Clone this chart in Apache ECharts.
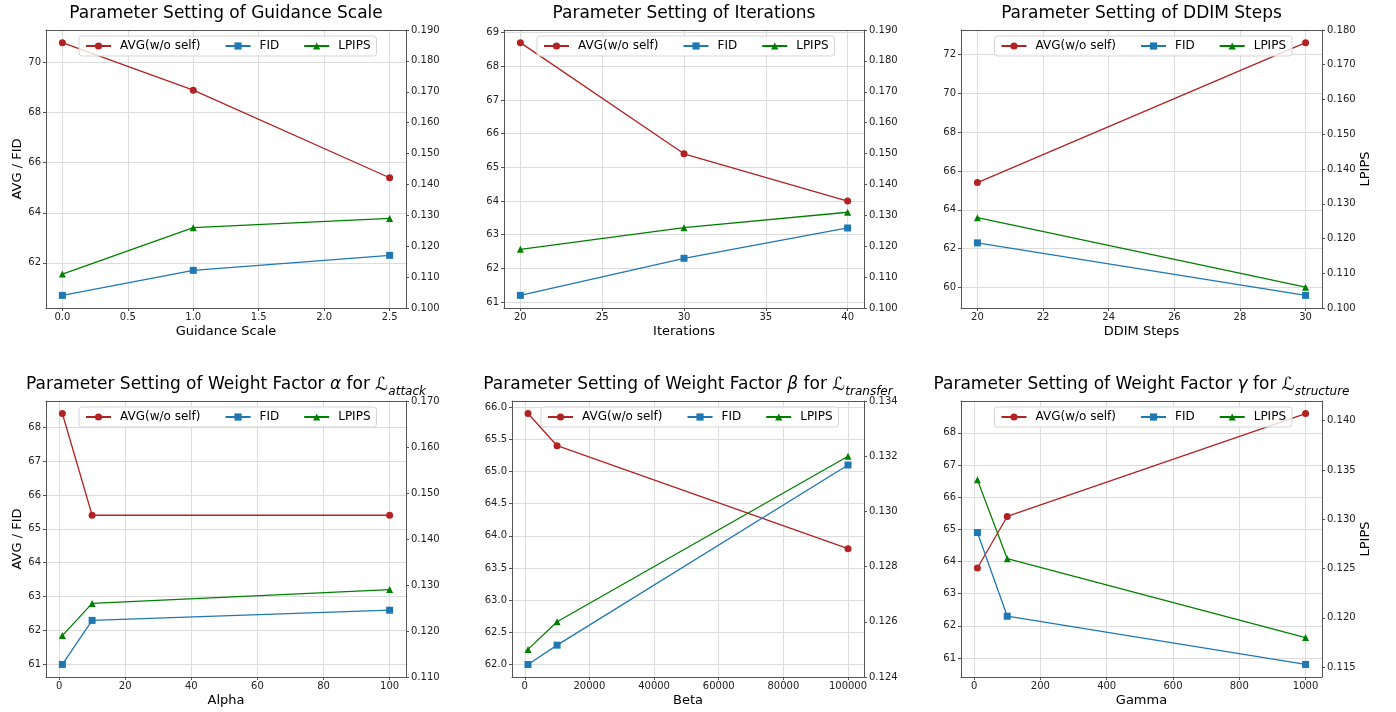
<!DOCTYPE html>
<html>
<head>
<meta charset="utf-8">
<script src="https://cdn.jsdelivr.net/npm/echarts@6/dist/echarts.min.js"></script>
<style>
html, body { margin: 0; padding: 0; background: #fff; }
#chart { width: 1396px; height: 712px; }
</style>
</head>
<body>
<div id="chart"></div>
<script>
var FONT = 'DejaVu Sans';
var RED = '#b22222', BLUE = '#1f77b4', GREEN = '#008000';
var SERIES_NAMES = ['AVG(w/o self)', 'FID', 'LPIPS'];

// Guidance Scale
var gsX = [0.0, 1.0, 2.5];
var gsAvg = [70.8, 68.9, 65.4];
var gsFid = [60.7, 61.7, 62.3];
var gsLpips = [0.111, 0.126, 0.129];
var gsLpipsAxis = [0.100, 0.190, 0.010]; // min, max, step

// Iterations
var itX = [20, 30, 40];
var itAvg = [68.7, 65.4, 64.0];
var itFid = [61.2, 62.3, 63.2];
var itLpips = [0.119, 0.126, 0.131];
var itLpipsAxis = [0.100, 0.190, 0.010];

// DDIM Steps
var ddX = [20, 30];
var ddAvg = [65.4, 72.6];
var ddFid = [62.3, 59.6];
var ddLpips = [0.126, 0.106];
var ddLpipsAxis = [0.100, 0.180, 0.010];

// Alpha
var alX = [1, 10, 100];
var alAvg = [68.4, 65.4, 65.4];
var alFid = [61.0, 62.3, 62.6];
var alLpips = [0.119, 0.126, 0.129];
var alLpipsAxis = [0.110, 0.170, 0.010];

// Beta
var beX = [1000, 10000, 100000];
var beAvg = [65.9, 65.4, 63.8];
var beFid = [62.0, 62.3, 65.1];
var beLpips = [0.125, 0.126, 0.132];
var beLpipsAxis = [0.124, 0.134, 0.002];

// Gamma
var gaX = [10, 100, 1000];
var gaAvg = [63.8, 65.4, 68.6];
var gaFid = [64.9, 62.3, 60.8];
var gaLpips = [0.134, 0.126, 0.118];
var gaLpipsAxis = [0.114, 0.142, 0.005];

var panels = [
    {title: '{n|Parameter Setting of Guidance Scale}', xName: 'Guidance Scale', x: gsX, avg: gsAvg, fid: gsFid, lpips: gsLpips,
     rAxis: gsLpipsAxis, xStep: 0.5, xDec: 1, yStep: 2, yDec: 0, leftName: 'AVG / FID', rightName: '',
     rect: [46, 30, 360, 278]},
    {title: '{n|Parameter Setting of Iterations}', xName: 'Iterations', x: itX, avg: itAvg, fid: itFid, lpips: itLpips,
     rAxis: itLpipsAxis, xStep: 5, xDec: 0, yStep: 1, yDec: 0, leftName: '', rightName: '',
     rect: [504, 30, 360, 278]},
    {title: '{n|Parameter Setting of DDIM Steps}', xName: 'DDIM Steps', x: ddX, avg: ddAvg, fid: ddFid, lpips: ddLpips,
     rAxis: ddLpipsAxis, xStep: 2, xDec: 0, yStep: 2, yDec: 0, leftName: '', rightName: 'LPIPS',
     rect: [961, 30, 361, 278]},
    {title: '{n|Parameter Setting of Weight Factor }{i|α}{n| for }{L|ℒ}{s|attack}', xName: 'Alpha', x: alX, avg: alAvg, fid: alFid, lpips: alLpips,
     rAxis: alLpipsAxis, xStep: 20, xDec: 0, yStep: 1, yDec: 0, leftName: 'AVG / FID', rightName: '',
     rect: [46, 401, 360, 276]},
    {title: '{n|Parameter Setting of Weight Factor }{i|β}{n| for }{L|ℒ}{s|transfer}', xName: 'Beta', x: beX, avg: beAvg, fid: beFid, lpips: beLpips,
     rAxis: beLpipsAxis, xStep: 20000, xDec: 0, yStep: 0.5, yDec: 1, leftName: '', rightName: '',
     rect: [512, 401, 352, 276]},
    {title: '{n|Parameter Setting of Weight Factor }{i|γ}{n| for }{L|ℒ}{s|structure}', xName: 'Gamma', x: gaX, avg: gaAvg, fid: gaFid, lpips: gaLpips,
     rAxis: gaLpipsAxis, xStep: 200, xDec: 0, yStep: 1, yDec: 0, leftName: '', rightName: 'LPIPS',
     rect: [961, 401, 361, 276]}
];

function zip(xs, ys) {
    return xs.map(function (v, k) { return [v, ys[k]]; });
}

function padded(vals) {
    var lo = Math.min.apply(null, vals), hi = Math.max.apply(null, vals);
    var m = (hi - lo) * 0.05;
    return [lo - m, hi + m];
}

var titleRich = {
    n: {fontSize: 17, fontFamily: FONT, fontWeight: 'normal', color: '#000', lineHeight: 26},
    i: {fontSize: 17, fontFamily: FONT, fontWeight: 'normal', fontStyle: 'italic', color: '#000', lineHeight: 26},
    L: {fontSize: 18, fontFamily: FONT, fontWeight: 'normal', color: '#000', lineHeight: 26},
    s: {fontSize: 12, fontFamily: FONT, fontWeight: 'normal', fontStyle: 'italic', color: '#000', lineHeight: 17, verticalAlign: 'bottom'}
};

var frameColor = '#555';
var gridColor = '#dcdcdc';
var labelStyle = {fontSize: 10, fontFamily: FONT, color: '#222'};

var option = {
    animation: false,
    backgroundColor: '#fff',
    title: [], grid: [], xAxis: [], yAxis: [], legend: [], series: []
};

panels.forEach(function (p, i) {
    var r = p.rect;
    var cx = r[0] + r[2] / 2;
    option.grid.push({left: r[0], top: r[1], width: r[2], height: r[3], containLabel: false});

    option.title.push({
        text: p.title, left: cx, top: r[1] - 29, textAlign: 'center', padding: 0,
        textStyle: {fontWeight: 'normal', rich: titleRich}
    });

    var xr = padded(p.x);
    option.xAxis.push({
        type: 'value', gridIndex: i, min: xr[0], max: xr[1],
        minInterval: p.xStep, maxInterval: p.xStep,
        name: p.xName, nameLocation: 'middle', nameGap: 17,
        nameTextStyle: {fontSize: 13, fontFamily: FONT, color: '#000'},
        axisLine: {onZero: false, lineStyle: {color: frameColor, width: 1}},
        axisTick: {length: 3, lineStyle: {color: frameColor}},
        axisLabel: Object.assign({margin: 4, showMinLabel: false, showMaxLabel: false,
            formatter: function (v) { return v.toFixed(p.xDec); }}, labelStyle),
        splitLine: {show: true, lineStyle: {color: gridColor, width: 1}}
    });
    // top spine
    option.xAxis.push({
        type: 'value', gridIndex: i, position: 'top', min: 0, max: 1,
        axisLine: {onZero: false, lineStyle: {color: frameColor, width: 1}},
        axisTick: {show: false}, axisLabel: {show: false}, splitLine: {show: false}
    });

    var yr = padded(p.avg.concat(p.fid));
    option.yAxis.push({
        type: 'value', gridIndex: i, position: 'left', min: yr[0], max: yr[1],
        minInterval: p.yStep, maxInterval: p.yStep,
        name: p.leftName, nameLocation: 'middle', nameGap: 22, nameRotate: 90,
        nameTextStyle: {fontSize: 13, fontFamily: FONT, color: '#000'},
        axisLine: {show: true, onZero: false, lineStyle: {color: frameColor, width: 1}},
        axisTick: {show: true, length: 3, lineStyle: {color: frameColor}},
        axisLabel: Object.assign({margin: 5, showMinLabel: false, showMaxLabel: false,
            formatter: function (v) { return v.toFixed(p.yDec); }}, labelStyle),
        splitLine: {show: true, lineStyle: {color: gridColor, width: 1}}
    });
    var ra = p.rAxis;
    var niceR = Math.abs(Math.round(ra[0] / ra[2]) * ra[2] - ra[0]) < 1e-9;
    var rAxis = {
        type: 'value', gridIndex: i, position: 'right', min: ra[0], max: ra[1],
        name: p.rightName, nameLocation: 'middle', nameGap: 36, nameRotate: 90,
        nameTextStyle: {fontSize: 13, fontFamily: FONT, color: '#000'},
        axisLine: {show: true, onZero: false, lineStyle: {color: frameColor, width: 1}},
        axisTick: {show: true, length: 3, lineStyle: {color: frameColor}},
        axisLabel: Object.assign({margin: 5,
            formatter: function (v) { return v.toFixed(3); }}, labelStyle),
        splitLine: {show: false}
    };
    if (niceR) {
        rAxis.interval = ra[2];
    } else {
        rAxis.minInterval = ra[2];
        rAxis.maxInterval = ra[2];
        rAxis.axisLabel.showMinLabel = false;
        rAxis.axisLabel.showMaxLabel = false;
    }
    option.yAxis.push(rAxis);

    option.legend.push({
        data: SERIES_NAMES, left: cx - 147, top: r[1] + 6,
        itemWidth: 25, itemHeight: 9, itemGap: 24, padding: [4, 6],
        borderColor: '#d5d5d5', borderWidth: 1, borderRadius: 3,
        backgroundColor: 'rgba(255,255,255,0.8)',
        textStyle: {fontSize: 12, fontFamily: FONT, color: '#000', padding: [0, 0, 0, 4]}
    });

    var defs = [
        [SERIES_NAMES[0], p.avg, RED, 'circle', 2 * i],
        [SERIES_NAMES[1], p.fid, BLUE, 'rect', 2 * i],
        [SERIES_NAMES[2], p.lpips, GREEN, 'triangle', 2 * i + 1]
    ];
    defs.forEach(function (d) {
        option.series.push({
            type: 'line', name: d[0], xAxisIndex: 2 * i, yAxisIndex: d[4],
            data: zip(p.x, d[1]), symbol: d[3], symbolSize: 7,
            itemStyle: {color: d[2]}, lineStyle: {color: d[2], width: 1.3}
        });
    });
});

var myChart = echarts.init(document.getElementById('chart'));
myChart.setOption(option);
</script>
</body>
</html>
